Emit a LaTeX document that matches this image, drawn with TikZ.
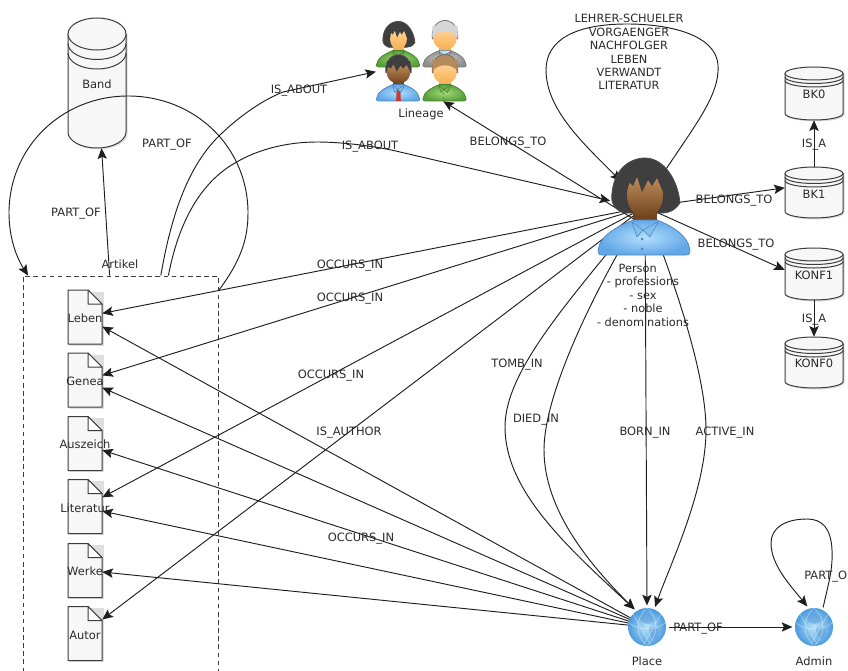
\documentclass[tikz,border=0pt]{standalone}
\usepackage{fontspec}
\setmainfont{DejaVu Sans}
\usetikzlibrary{arrows.meta,shapes.geometric}
\definecolor{lineC}{HTML}{1E1E1E}
\definecolor{shapeC}{HTML}{3C3C3C}
\definecolor{paperC}{HTML}{F7F7F7}
\definecolor{txtC}{HTML}{2A2A2A}
\definecolor{shadowC}{HTML}{DEDEDE}
\definecolor{hairD}{HTML}{3F3F3F}
\definecolor{hairG}{HTML}{D6D6D6}
\definecolor{hairB}{HTML}{B58A5C}
\definecolor{skinBT}{HTML}{C89560}
\definecolor{skinBB}{HTML}{70431E}
\definecolor{skinLT}{HTML}{FFD49A}
\definecolor{skinLB}{HTML}{F8B050}
\definecolor{blueI}{HTML}{B4E0FB}
\definecolor{blueO}{HTML}{62A8E8}
\definecolor{blueL}{HTML}{5A9AD8}
\definecolor{greenI}{HTML}{A6DA78}
\definecolor{greenO}{HTML}{58A03A}
\definecolor{grayI}{HTML}{CFCFCF}
\definecolor{grayO}{HTML}{8F8F8F}
\definecolor{tieR}{HTML}{C83A30}
\definecolor{globeI}{HTML}{B8E4FA}
\definecolor{globeO}{HTML}{4A9BDE}
\tikzset{
  edgeline/.style={draw=lineC,line width=.7pt,-{Stealth[length=8pt,width=7pt,inset=1.6pt]}},
  lbl/.style={font=\fontsize{8.6}{10}\selectfont,text=txtC,inner sep=0pt,align=center,yshift=-1pt},
  anchorbox/.style={rectangle,draw=none,inner sep=0pt},
  anchorround/.style={circle,draw=none,inner sep=0pt},
  shapeline/.style={draw=shapeC,line width=.75pt,fill=paperC},
}
% document icon: name, centre y
\newcommand{\docicon}[2]{
  \node[anchorbox,minimum width=25.5pt,minimum height=40pt] (#1) at (85,#2) {};
  \fill[shadowC] (69.5,#2-25.5) rectangle (103.5,#2+28.5);
  \draw[shapeline,line join=round] (68,#2-27) -- (88,#2-27) -- (102,#2-13) -- (102,#2+27) -- (68,#2+27) -- cycle;
  \draw[draw=shapeC,line width=.75pt,fill=white,line join=round] (88,#2-27) -- (88,#2-13) -- (102,#2-13) -- cycle;
}
% cylinder: name, x1, x2, ytop, ybottom, ry, ring offset
\newcommand{\cylicon}[7]{
  \node[anchorbox,minimum width=#3*.75pt-#2*.75pt,minimum height=#5*.75pt-#4*.75pt] (#1) at ({(#2+#3)/2},{(#4+#5)/2}) {};
  \fill[shadowC] (#2+1.5,#4+#6) -- (#2+1.5,#5-#6+1.5) arc[start angle=180,end angle=360,x radius={(#3-#2)/2},y radius=-#6] -- (#3+1.5,#4+#6) -- cycle;
  \draw[shapeline] (#2,#4+#6) -- (#2,#5-#6) arc[start angle=180,end angle=360,x radius={(#3-#2)/2},y radius=-#6] -- (#3,#4+#6);
  \draw[shapeline] ({(#2+#3)/2},#4+#6) ellipse[x radius={(#3-#2)/2},y radius=#6];
  \draw[shapeline,fill=none] (#2,#4+#6+#7) arc[start angle=180,end angle=360,x radius={(#3-#2)/2},y radius=-#6];
  \draw[shapeline,fill=none] (#2,#4+#6+#7+#7) arc[start angle=180,end angle=360,x radius={(#3-#2)/2},y radius=-#6];
}
% human icon: x, y (bottom centre), scale, hair style (1 long, 0 short jagged, 2 short smooth), hair, skin top, skin bottom, body inner, body outer
\def\tiecol{none}\def\innercol{none}
\newcommand{\humanicon}[9]{
  \begin{scope}[shift={(#1,#2)},scale=#3,line join=round]
    \ifnum#4=1
      \draw[draw=black!70,line width=.6pt,fill=#5] (-20,-42) .. controls (-32,-46) and (-33,-55) .. (-32,-62) .. controls (-30,-85) and (-15,-97) .. (1,-97) .. controls (20,-97) and (34,-75) .. (36,-52) .. controls (30,-44) and (25,-42) .. (18,-42) -- cycle;
      \def\facerx{18}\def\fringex{1}
    \else
      \draw[draw=black!60,line width=.5pt,fill=#5] (-26,-60) .. controls (-29,-85) and (-14,-99) .. (1,-99) .. controls (16,-99) and (31,-85) .. (28,-60) -- cycle;
      \def\facerx{25}\def\fringex{1.38}
    \fi
    \fill[#7] (-11,-42) rectangle (13,-28);
    \shade[top color=#6,bottom color=#7] (1,-60) ellipse[x radius=\facerx,y radius=23];
    \draw[draw=#9!80!black,line width=.5pt,shade,inner color=#8,outer color=#9] (-42,0) -- (42,0) .. controls (46,0) and (46,-3) .. (46,-5) .. controls (44,-20) and (28,-29) .. (13,-35) -- (-11,-35) .. controls (-26,-29) and (-44,-20) .. (-46,-5) .. controls (-46,-3) and (-46,0) .. (-42,0) -- cycle;
    \path[fill=\innercol] (-10,-35) -- (12,-35) -- (6,-12) -- (-4,-12) -- cycle;
    \path[fill=\tiecol] (-3,-24) -- (5,-24) -- (6,0) -- (-4,0) -- cycle;
    \draw[draw=#9!80!black,line width=.4pt,fill=#9!60!#8] (-12,-33) -- (-7,-18) -- (-1,-25) -- cycle;
    \draw[draw=#9!80!black,line width=.4pt,fill=#9!60!#8] (14,-33) -- (6,-18) -- (-1,-25) -- cycle;
    \fill[#9!80!black] (-2,-16) circle[radius=1.5] (-2,-6) circle[radius=1.5];
    \ifnum#4=2
      \fill[#5] (-26,-64) .. controls (-12,-80) and (14,-80) .. (28,-64) -- (28,-88) -- (-26,-88) -- cycle;
    \else
      \fill[#5,xscale=\fringex] (-17,-62) -- (-17,-75) -- (-11,-69) -- (-7,-78) -- (-2,-63) -- (4,-75) -- (8,-69) -- (13,-77) -- (19,-63) -- (19,-85) -- (-17,-85) -- cycle;
    \fi
  \end{scope}
}
% globe icon: node name
\newcommand{\globeicon}[1]{
  \begin{scope}[shift={(#1.center)}]
    \shade[inner color=globeI,outer color=globeO] (0,0) circle[radius=19];
    \fill[blueL,opacity=.5] (-9,-13) .. controls (-2,-16) and (8,-13) .. (7,-7) .. controls (4,-1) and (-3,-3) .. (-6,-6) -- cycle;
    \fill[blueL,opacity=.5] (2,1) .. controls (9,-2) and (15,3) .. (9,11) .. controls (5,14) and (2,8) .. (2,1) -- cycle;
    \draw[white,opacity=.4,line width=.5pt] (-18,-4) .. controls (-8,4) and (8,4) .. (18,-4);
    \draw[white,opacity=.4,line width=.5pt] (-14,-13) -- (3,17) (14,-13) -- (-3,17);
    \draw[white,opacity=.4,line width=.5pt] (0,-19) .. controls (-12,-8) and (-12,8) .. (0,19) .. controls (12,8) and (12,-8) .. (0,-19);
  \end{scope}
}
\begin{document}
\begin{tikzpicture}[x=.75pt,y=-.75pt]
\useasboundingbox (0,0) rectangle (848,670);
\clip (0,0) rectangle (848,670);
\fill[white] (0,0) rectangle (848,670);
% anchors of the icons
\node[anchorround,minimum size=52.5pt] (person) at (645,207) {};
\node[anchorround,minimum size=32pt] (place) at (647,627) {};
\node[anchorround,minimum size=32pt] (admin) at (814,627) {};
\node[anchorbox,minimum width=68pt,minimum height=58.5pt] (lineage) at (421.5,62) {};
\coordinate (personB) at (645,226);
% Artikel group
\node[rectangle,draw=shapeC,line width=.75pt,dash pattern=on 3.5pt off 2.6pt,inner sep=0pt,minimum width=146.25pt,minimum height=310.5pt] (artikel) at (120.5,483) {};
% documents
\docicon{leben}{317}
\docicon{genea}{380}
\docicon{auszeich}{443.5}
\docicon{literatur}{506.5}
\docicon{werke}{570.5}
\docicon{autor}{633.5}
% cylinders
\cylicon{band}{68}{126}{18}{148}{16}{9.5}
\cylicon{bkzero}{785}{843}{67}{120}{6.5}{3.5}
\cylicon{bkone}{785}{843}{167}{218}{6.5}{3.5}
\cylicon{konfone}{785}{843}{248}{300}{6.5}{3.5}
\cylicon{konfzero}{785}{843}{337}{388}{6.5}{3.5}
% connectors
\draw[edgeline] (artikel.93.5) -- (band.-86.6);
\draw[edgeline] (artikel.63) .. controls (240,262) and (248,240) .. (248,213) .. controls (248,147) and (195,96) .. (128,96) .. controls (62,96) and (9,147) .. (9,213) .. controls (9,235) and (15,255) .. (artikel.114.5);
\draw[edgeline] (artikel.79.7) .. controls (172,210) and (190,165) .. (218,137) .. controls (240,115) and (265,99) .. (283,92) -- (lineage.192);
\draw[edgeline] (artikel.77.9) .. controls (180,215) and (205,180) .. (235,163) .. controls (260,148) and (290,142) .. (317,142) .. controls (345,142) and (380,147) .. (400,152) -- (person.170);
\draw[edgeline] (personB) -- (lineage.-61);
\draw[edgeline] (person.center) -- (leben.12);
\draw[edgeline] (person.center) -- (genea.15);
\draw[edgeline] (person.center) -- (literatur.28);
\draw[edgeline] (person.center) -- (autor.39);
\draw[edgeline] (place.center) -- (leben.-29);
\draw[edgeline] (place.center) -- (genea.-24);
\draw[edgeline] (place.center) -- (auszeich.-21);
\draw[edgeline] (place.center) -- (literatur.-15);
\draw[edgeline] (place.center) -- (werke.-5);
\draw[edgeline] (person.center) .. controls (570,300) and (505,370) .. (505,427) .. controls (505,490) and (565,545) .. (place.125);
\draw[edgeline] (person.center) .. controls (600,280) and (544,390) .. (544,450) .. controls (544,510) and (590,565) .. (place.125);
\draw[edgeline] (person.center) -- (place.north);
\draw[edgeline] (person.center) .. controls (670,270) and (706,370) .. (706,430) .. controls (706,490) and (670,565) .. (place.68);
\draw[edgeline] (person.center) -- (bkone.171);
\draw[edgeline] (person.center) -- (konfone.172);
\draw[edgeline] (bkone.north) -- (bkzero.south);
\draw[edgeline] (konfone.south) -- (konfzero.north);
\draw[edgeline] (place) -- (admin);
\draw[edgeline] (person.62) .. controls (695,125) and (720,95) .. (718,65) .. controls (716,35) and (670,24) .. (627,24) .. controls (575,24) and (546,40) .. (546,70) .. controls (546,110) and (585,145) .. (person.133);
\draw[edgeline] (admin.65) .. controls (828,585) and (833,570) .. (832,550) .. controls (831,528) and (822,519) .. (807,519) .. controls (785,519) and (771,528) .. (771,543) .. controls (771,565) and (790,585) .. (admin.108);
% icons over the connectors
\humanicon{644}{255}{1}{1}{hairD}{skinBT}{skinBB}{blueI}{blueO}
\globeicon{place}
\globeicon{admin}
\humanicon{398}{67}{.47}{1}{hairD}{skinLT}{skinLB}{greenI}{greenO}
\def\tiecol{tieR}\def\innercol{blueI}
\humanicon{444.5}{67}{.47}{2}{hairG}{skinLT}{skinLB}{grayI}{grayO}
\def\innercol{none}
\humanicon{398}{101}{.47}{0}{hairD}{skinBT}{skinBB}{blueI}{blueO}
\def\tiecol{none}
\humanicon{444.5}{101}{.47}{2}{hairB}{skinLT}{skinLB}{greenI}{greenO}
% texts
\node[lbl] (tBand) at (97,83) {Band};
\node[lbl] (tArtikel) at (120,263) {Artikel};
\node[lbl] (tLeben) at (85,317) {Leben};
\node[lbl] (tGenea) at (85,380) {Genea};
\node[lbl] (tAus) at (85,443) {Auszeich};
\node[lbl] (tLit) at (85,507) {Literatur};
\node[lbl] (tWerke) at (85,570) {Werke};
\node[lbl] (tAutor) at (85,634) {Autor};
\node[lbl] (tLineage) at (421,113) {Lineage};
\node[lbl] (tPlace) at (647,660) {Place};
\node[lbl] (tAdmin) at (814,660) {Admin};
\node[lbl,font=\fontsize{8.5}{10.05}\selectfont] (tPerson) at (643,294) {Person\hspace*{8pt}\\- professions\\- sex\\- noble\\- denominations};
\node[lbl,font=\fontsize{8.5}{10.05}\selectfont] (tLoop) at (629,51) {LEHRER-SCHUELER\\VORGAENGER\\NACHFOLGER\\LEBEN\\VERWANDT\\LITERATUR};
\node[lbl] (e1) at (167,143) {PART\_OF};
\node[lbl] (e2) at (76,212) {PART\_OF};
\node[lbl] (e3) at (299,89) {IS\_ABOUT};
\node[lbl] (e4) at (370,145) {IS\_ABOUT};
\node[lbl] (e5) at (508,141) {BELONGS\_TO};
\node[lbl] (e6) at (350,264) {OCCURS\_IN};
\node[lbl] (e7) at (350,297) {OCCURS\_IN};
\node[lbl] (e8) at (331,374) {OCCURS\_IN};
\node[lbl] (e9) at (349,431) {IS\_AUTHOR};
\node[lbl] (e10) at (361,537) {OCCURS\_IN};
\node[lbl] (e11) at (517,363) {TOMB\_IN};
\node[lbl] (e12) at (536,418) {DIED\_IN};
\node[lbl] (e13) at (645,431) {BORN\_IN};
\node[lbl] (e14) at (725,431) {ACTIVE\_IN};
\node[lbl] (e15) at (734,199) {BELONGS\_TO};
\node[lbl] (e16) at (736,243) {BELONGS\_TO};
\node[lbl] (e17) at (814,143) {IS\_A};
\node[lbl] (e18) at (814,318) {IS\_A};
\node[lbl] (e19) at (698,627) {PART\_OF};
\node[lbl,anchor=west] (e20) at (804,575) {PART\_OF};
\node[lbl] (tBK0) at (814,93) {BK0};
\node[lbl] (tBK1) at (814,193) {BK1};
\node[lbl] (tK1) at (814,274) {KONF1};
\node[lbl] (tK0) at (814,362) {KONF0};
\end{tikzpicture}
\end{document}
